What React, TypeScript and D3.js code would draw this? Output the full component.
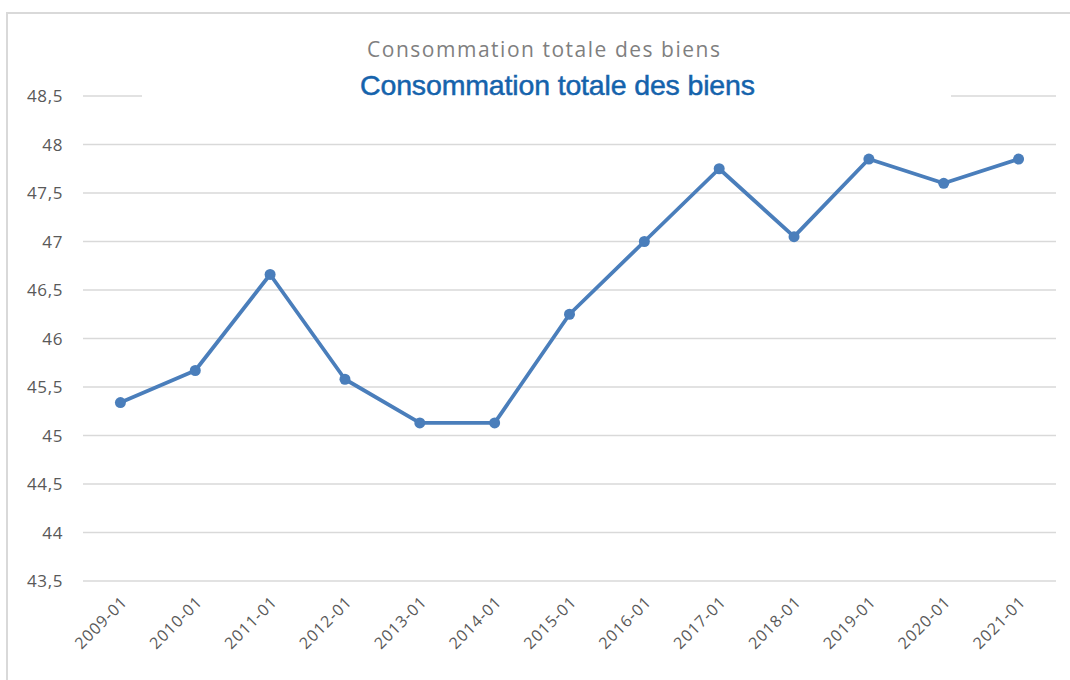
import React, { useRef, useEffect } from "react";
import * as d3 from "d3";

const categories = [
    "2009-01", "2010-01", "2011-01", "2012-01", "2013-01", "2014-01", "2015-01",
    "2016-01", "2017-01", "2018-01", "2019-01", "2020-01", "2021-01",
];
const values = [45.34, 45.67, 46.66, 45.58, 45.13, 45.13, 46.25, 47.0, 47.75, 47.05, 47.85, 47.6, 47.85];
const yTicks = [43.5, 44, 44.5, 45, 45.5, 46, 46.5, 47, 47.5, 48, 48.5];
const title = "Consommation totale des biens";

const W = 1070;
const H = 680;
const plot = { left: 83, right: 1056, top: 96, bottom: 581 };

const App = () => {
    const canvas = useRef<SVGSVGElement | null>(null);

    useEffect(() => {
        const svg = d3.select(canvas.current);
        svg.selectAll("*").remove();

        const x = d3.scaleBand().domain(categories).range([plot.left, plot.right]);
        const y = d3.scaleLinear().domain([43.5, 48.5]).range([plot.bottom, plot.top]);
        const cx = (c: string) => (x(c) as number) + x.bandwidth() / 2;

        // outer frame
        svg.append("path")
            .attr("d", `M7,${H + 5} L7,13 L${W + 5},13`)
            .attr("fill", "none")
            .attr("stroke", "#d9d9d9")
            .attr("stroke-width", 2);

        // grid
        svg.append("g")
            .selectAll("line")
            .data(yTicks)
            .join("line")
            .attr("x1", plot.left)
            .attr("x2", plot.right)
            .attr("y1", (d) => y(d))
            .attr("y2", (d) => y(d))
            .attr("stroke", "#d9d9d9")
            .attr("stroke-width", 1.5);

        const fmt = (d: number) => String(d).replace(".", ",");
        svg.append("g")
            .selectAll("text")
            .data(yTicks)
            .join("text")
            .attr("x", 63)
            .attr("y", (d) => y(d))
            .attr("dy", "0.36em")
            .attr("text-anchor", "end")
            .attr("font-family", "'Open Sans', sans-serif")
            .attr("font-size", 17)
            .attr("letter-spacing", 0.6)
            .attr("fill", "#595959")
            .text(fmt);

        // x labels
        svg.append("g")
            .selectAll("text")
            .data(categories)
            .join("text")
            .attr("transform", (d) => `translate(${cx(d) + 8},${plot.bottom + 22}) rotate(-45)`)
            .attr("text-anchor", "end")
            .attr("font-family", "'Open Sans', sans-serif")
            .attr("font-size", 16)
            .attr("letter-spacing", 0.9)
            .attr("fill", "#595959")
            .text((d) => d);

        // titles
        svg.append("text")
            .attr("x", 367)
            .attr("y", 57)
            .attr("textLength", 353)
            .attr("lengthAdjust", "spacing")
            .attr("font-family", "'Open Sans', sans-serif")
            .attr("font-size", 21)
            .attr("fill", "#7f7f7f")
            .text(title);

        svg.append("rect")
            .attr("x", 142)
            .attr("y", 66)
            .attr("width", 809)
            .attr("height", 40)
            .attr("fill", "#fff");

        svg.append("text")
            .attr("x", 360)
            .attr("y", 95)
            .attr("textLength", 395)
            .attr("lengthAdjust", "spacing")
            .attr("font-family", "'Liberation Sans', Arial, sans-serif")
            .attr("font-size", 28.5)
            .attr("fill", "#1563ac")
            .attr("stroke", "#1563ac")
            .attr("stroke-width", 0.5)
            .text(title);

        // series
        const line = d3
            .line<number>()
            .x((d, i) => cx(categories[i]))
            .y((d) => y(d));

        svg.append("path")
            .datum(values)
            .attr("d", line)
            .attr("fill", "none")
            .attr("stroke", "#4a7ebb")
            .attr("stroke-width", 3.8)
            .attr("stroke-linejoin", "round");

        svg.append("g")
            .selectAll("circle")
            .data(values)
            .join("circle")
            .attr("cx", (d, i) => cx(categories[i]))
            .attr("cy", (d) => y(d))
            .attr("r", 5.5)
            .attr("fill", "#4a7ebb");
    }, []);

    return (
        <svg
            ref={canvas}
            width={W}
            height={H}
            style={{ position: "absolute", left: 0, top: 0, background: "#fff", display: "block" }}
        />
    );
};

export default App;
